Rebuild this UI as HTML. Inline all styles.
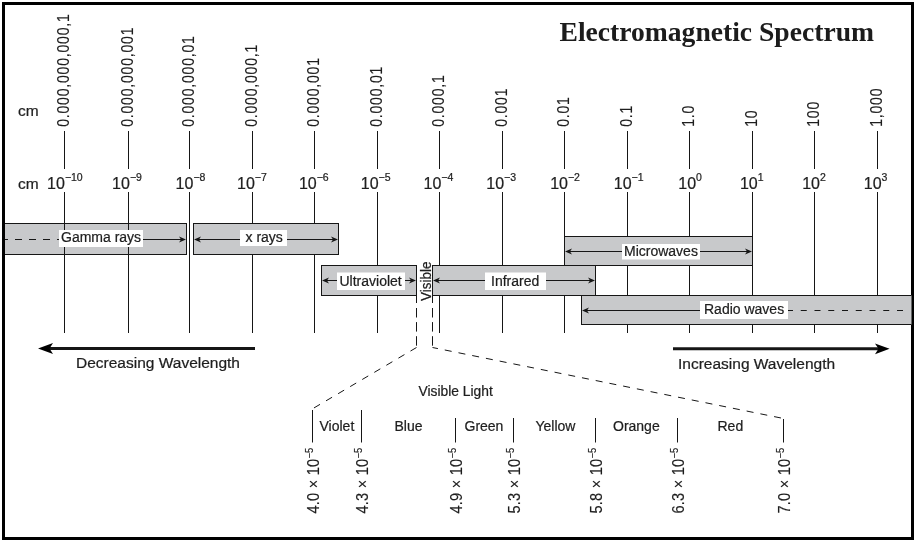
<!DOCTYPE html>
<html><head><meta charset="utf-8"><style>
html,body{margin:0;padding:0;background:#fff;}
svg{display:block;will-change:transform;}
text{font-family:"Liberation Sans", sans-serif;fill:#1e1e1e;stroke:#1e1e1e;stroke-width:0.22px;}
</style></head><body>
<svg width="916" height="542" viewBox="0 0 916 542">
<rect width="916" height="542" fill="#fff"/>
<rect x="3.5" y="3.5" width="909" height="535" fill="none" stroke="#000" stroke-width="3"/>
<text x="559.5" y="41" style="font-family:'Liberation Serif', serif;font-weight:bold;fill:#1c1c1c;stroke:none" font-size="27" textLength="314.5" lengthAdjust="spacingAndGlyphs">Electromagnetic Spectrum</text>
<text x="18" y="116" font-size="15.5" text-anchor="start">cm</text>
<text x="18" y="189" font-size="15.5" text-anchor="start">cm</text>
<text x="0" y="0" font-size="16.5" transform="translate(69.0 126.8) rotate(-90) scale(0.85 1)" letter-spacing="0.95" style="stroke-width:0.15px">0.000,000,000,1</text>
<text x="0" y="0" font-size="16.5" transform="translate(133.0 126.8) rotate(-90) scale(0.85 1)" letter-spacing="0.95" style="stroke-width:0.15px">0.000,000,001</text>
<text x="0" y="0" font-size="16.5" transform="translate(194.0 126.8) rotate(-90) scale(0.85 1)" letter-spacing="0.95" style="stroke-width:0.15px">0.000,000,01</text>
<text x="0" y="0" font-size="16.5" transform="translate(257.0 126.8) rotate(-90) scale(0.85 1)" letter-spacing="0.95" style="stroke-width:0.15px">0.000,000,1</text>
<text x="0" y="0" font-size="16.5" transform="translate(319.0 126.8) rotate(-90) scale(0.85 1)" letter-spacing="0.95" style="stroke-width:0.15px">0.000,001</text>
<text x="0" y="0" font-size="16.5" transform="translate(382.0 126.8) rotate(-90) scale(0.85 1)" letter-spacing="0.95" style="stroke-width:0.15px">0.000,01</text>
<text x="0" y="0" font-size="16.5" transform="translate(444.0 126.8) rotate(-90) scale(0.85 1)" letter-spacing="0.95" style="stroke-width:0.15px">0.000,1</text>
<text x="0" y="0" font-size="16.5" transform="translate(507.0 126.8) rotate(-90) scale(0.85 1)" letter-spacing="0.95" style="stroke-width:0.15px">0.001</text>
<text x="0" y="0" font-size="16.5" transform="translate(569.0 126.8) rotate(-90) scale(0.85 1)" letter-spacing="0.95" style="stroke-width:0.15px">0.01</text>
<text x="0" y="0" font-size="16.5" transform="translate(632.0 126.8) rotate(-90) scale(0.85 1)" letter-spacing="0.95" style="stroke-width:0.15px">0.1</text>
<text x="0" y="0" font-size="16.5" transform="translate(694.0 126.8) rotate(-90) scale(0.85 1)" letter-spacing="0.95" style="stroke-width:0.15px">1.0</text>
<text x="0" y="0" font-size="16.5" transform="translate(757.0 126.8) rotate(-90) scale(0.85 1)" letter-spacing="0.95" style="stroke-width:0.15px">10</text>
<text x="0" y="0" font-size="16.5" transform="translate(819.0 126.8) rotate(-90) scale(0.85 1)" letter-spacing="0.95" style="stroke-width:0.15px">100</text>
<text x="0" y="0" font-size="16.5" transform="translate(882.0 126.8) rotate(-90) scale(0.85 1)" letter-spacing="0.95" style="stroke-width:0.15px">1,000</text>
<line x1="64.5" y1="131" x2="64.5" y2="169" stroke="#161616" stroke-width="1"/>
<line x1="128.5" y1="131" x2="128.5" y2="169" stroke="#161616" stroke-width="1"/>
<line x1="189.5" y1="131" x2="189.5" y2="169" stroke="#161616" stroke-width="1"/>
<line x1="252.5" y1="131" x2="252.5" y2="169" stroke="#161616" stroke-width="1"/>
<line x1="314.5" y1="131" x2="314.5" y2="169" stroke="#161616" stroke-width="1"/>
<line x1="377.5" y1="131" x2="377.5" y2="169" stroke="#161616" stroke-width="1"/>
<line x1="439.5" y1="131" x2="439.5" y2="169" stroke="#161616" stroke-width="1"/>
<line x1="502.5" y1="131" x2="502.5" y2="169" stroke="#161616" stroke-width="1"/>
<line x1="564.5" y1="131" x2="564.5" y2="169" stroke="#161616" stroke-width="1"/>
<line x1="627.5" y1="131" x2="627.5" y2="169" stroke="#161616" stroke-width="1"/>
<line x1="689.5" y1="131" x2="689.5" y2="169" stroke="#161616" stroke-width="1"/>
<line x1="752.5" y1="131" x2="752.5" y2="169" stroke="#161616" stroke-width="1"/>
<line x1="814.5" y1="131" x2="814.5" y2="169" stroke="#161616" stroke-width="1"/>
<line x1="877.5" y1="131" x2="877.5" y2="169" stroke="#161616" stroke-width="1"/>
<text x="47.099999999999994" y="189" font-size="16">10<tspan font-size="10.5" dy="-8">−10</tspan></text>
<text x="112.1" y="189" font-size="16">10<tspan font-size="10.5" dy="-8">−9</tspan></text>
<text x="175.60000000000002" y="189" font-size="16">10<tspan font-size="10.5" dy="-8">−8</tspan></text>
<text x="237.0" y="189" font-size="16">10<tspan font-size="10.5" dy="-8">−7</tspan></text>
<text x="298.90000000000003" y="189" font-size="16">10<tspan font-size="10.5" dy="-8">−6</tspan></text>
<text x="360.8" y="189" font-size="16">10<tspan font-size="10.5" dy="-8">−5</tspan></text>
<text x="423.5" y="189" font-size="16">10<tspan font-size="10.5" dy="-8">−4</tspan></text>
<text x="486.3" y="189" font-size="16">10<tspan font-size="10.5" dy="-8">−3</tspan></text>
<text x="550.1999999999999" y="189" font-size="16">10<tspan font-size="10.5" dy="-8">−2</tspan></text>
<text x="613.8" y="189" font-size="16">10<tspan font-size="10.5" dy="-8">−1</tspan></text>
<text x="678.3" y="189" font-size="16">10<tspan font-size="10.5" dy="-8">0</tspan></text>
<text x="739.9" y="189" font-size="16">10<tspan font-size="10.5" dy="-8">1</tspan></text>
<text x="802.1999999999999" y="189" font-size="16">10<tspan font-size="10.5" dy="-8">2</tspan></text>
<text x="863.8" y="189" font-size="16">10<tspan font-size="10.5" dy="-8">3</tspan></text>
<rect x="5" y="223.5" width="181.5" height="31" fill="#c8c9cb"/>
<line x1="5" y1="223.5" x2="187" y2="223.5" stroke="#161616" stroke-width="1"/>
<line x1="5" y1="254.5" x2="187" y2="254.5" stroke="#161616" stroke-width="1"/>
<line x1="186.5" y1="223" x2="186.5" y2="255" stroke="#161616" stroke-width="1"/>
<line x1="64.5" y1="192" x2="64.5" y2="333" stroke="#161616" stroke-width="1"/>
<line x1="128.5" y1="192" x2="128.5" y2="333" stroke="#161616" stroke-width="1"/>
<line x1="189.5" y1="192" x2="189.5" y2="333" stroke="#161616" stroke-width="1"/>
<line x1="252.5" y1="192" x2="252.5" y2="333" stroke="#161616" stroke-width="1"/>
<line x1="314.5" y1="192" x2="314.5" y2="333" stroke="#161616" stroke-width="1"/>
<line x1="377.5" y1="192" x2="377.5" y2="333" stroke="#161616" stroke-width="1"/>
<line x1="439.5" y1="192" x2="439.5" y2="333" stroke="#161616" stroke-width="1"/>
<line x1="502.5" y1="192" x2="502.5" y2="333" stroke="#161616" stroke-width="1"/>
<line x1="564.5" y1="192" x2="564.5" y2="333" stroke="#161616" stroke-width="1"/>
<line x1="627.5" y1="192" x2="627.5" y2="333" stroke="#161616" stroke-width="1"/>
<line x1="689.5" y1="192" x2="689.5" y2="333" stroke="#161616" stroke-width="1"/>
<line x1="752.5" y1="192" x2="752.5" y2="333" stroke="#161616" stroke-width="1"/>
<line x1="814.5" y1="192" x2="814.5" y2="333" stroke="#161616" stroke-width="1"/>
<line x1="877.5" y1="192" x2="877.5" y2="333" stroke="#161616" stroke-width="1"/>
<rect x="193.5" y="223.5" width="145" height="31" fill="#c8c9cb"/>
<line x1="193" y1="223.5" x2="339" y2="223.5" stroke="#161616" stroke-width="1"/>
<line x1="193" y1="254.5" x2="339" y2="254.5" stroke="#161616" stroke-width="1"/>
<line x1="193.5" y1="223" x2="193.5" y2="255" stroke="#161616" stroke-width="1"/>
<line x1="338.5" y1="223" x2="338.5" y2="255" stroke="#161616" stroke-width="1"/>
<rect x="564.5" y="236.5" width="188" height="29" fill="#c8c9cb"/>
<line x1="564" y1="236.5" x2="753" y2="236.5" stroke="#161616" stroke-width="1"/>
<line x1="564" y1="265.5" x2="753" y2="265.5" stroke="#161616" stroke-width="1"/>
<line x1="564.5" y1="236" x2="564.5" y2="266" stroke="#161616" stroke-width="1"/>
<line x1="752.5" y1="236" x2="752.5" y2="266" stroke="#161616" stroke-width="1"/>
<rect x="321.5" y="265.5" width="95" height="30" fill="#c8c9cb"/>
<line x1="321" y1="265.5" x2="417" y2="265.5" stroke="#161616" stroke-width="1"/>
<line x1="321" y1="295.5" x2="417" y2="295.5" stroke="#161616" stroke-width="1"/>
<line x1="321.5" y1="265" x2="321.5" y2="296" stroke="#161616" stroke-width="1"/>
<line x1="416.5" y1="265" x2="416.5" y2="296" stroke="#161616" stroke-width="1"/>
<rect x="432.5" y="265.5" width="163" height="30" fill="#c8c9cb"/>
<line x1="432" y1="265.5" x2="596" y2="265.5" stroke="#161616" stroke-width="1"/>
<line x1="432" y1="295.5" x2="596" y2="295.5" stroke="#161616" stroke-width="1"/>
<line x1="432.5" y1="265" x2="432.5" y2="296" stroke="#161616" stroke-width="1"/>
<line x1="595.5" y1="265" x2="595.5" y2="296" stroke="#161616" stroke-width="1"/>
<rect x="581.5" y="295.5" width="330" height="29" fill="#c8c9cb"/>
<line x1="581" y1="295.5" x2="911" y2="295.5" stroke="#161616" stroke-width="1"/>
<line x1="581" y1="324.5" x2="911" y2="324.5" stroke="#161616" stroke-width="1"/>
<line x1="581.5" y1="295" x2="581.5" y2="325" stroke="#161616" stroke-width="1"/>
<line x1="416.5" y1="295" x2="416.5" y2="303" stroke="#161616" stroke-width="1"/>
<line x1="432.5" y1="295" x2="432.5" y2="303" stroke="#161616" stroke-width="1"/>
<line x1="416.5" y1="308" x2="416.5" y2="346" stroke="#161616" stroke-width="1" stroke-dasharray="9.5,4.6"/>
<line x1="432.5" y1="308" x2="432.5" y2="346" stroke="#161616" stroke-width="1" stroke-dasharray="9.5,4.6"/>
<text x="0" y="0" font-size="15" transform="translate(431 301) rotate(-90) scale(0.9 1)">Visible</text>
<line x1="5" y1="239.5" x2="59" y2="239.5" stroke="#161616" stroke-width="1" stroke-dasharray="7,7" stroke-dashoffset="4"/>
<line x1="143" y1="239.5" x2="185" y2="239.5" stroke="#161616" stroke-width="1"/>
<path d="M186,239.5 L179,236.5 L181,239.5 L179,242.5 Z" fill="#161616"/>
<line x1="195" y1="239.5" x2="337" y2="239.5" stroke="#161616" stroke-width="1"/>
<path d="M194,239.5 L201,236.5 L199,239.5 L201,242.5 Z" fill="#161616"/>
<path d="M338,239.5 L331,236.5 L333,239.5 L331,242.5 Z" fill="#161616"/>
<line x1="566" y1="251.5" x2="751" y2="251.5" stroke="#161616" stroke-width="1"/>
<path d="M565,251.5 L572,248.5 L570,251.5 L572,254.5 Z" fill="#161616"/>
<path d="M752,251.5 L745,248.5 L747,251.5 L745,254.5 Z" fill="#161616"/>
<line x1="323" y1="280.5" x2="415" y2="280.5" stroke="#161616" stroke-width="1"/>
<path d="M322,280.5 L329,277.5 L327,280.5 L329,283.5 Z" fill="#161616"/>
<path d="M416,280.5 L409,277.5 L411,280.5 L409,283.5 Z" fill="#161616"/>
<line x1="434" y1="280.5" x2="594" y2="280.5" stroke="#161616" stroke-width="1"/>
<path d="M433,280.5 L440,277.5 L438,280.5 L440,283.5 Z" fill="#161616"/>
<path d="M595,280.5 L588,277.5 L590,280.5 L588,283.5 Z" fill="#161616"/>
<line x1="583" y1="310.5" x2="700" y2="310.5" stroke="#161616" stroke-width="1"/>
<path d="M582,310.5 L589,307.5 L587,310.5 L589,313.5 Z" fill="#161616"/>
<line x1="787" y1="310.5" x2="906" y2="310.5" stroke="#161616" stroke-width="1" stroke-dasharray="6,7.75"/>
<rect x="59" y="230" width="84" height="17" fill="#fff"/>
<text x="61" y="241.5" font-size="14" text-anchor="start">Gamma rays</text>
<rect x="240" y="230" width="47" height="16" fill="#fff"/>
<text x="245.5" y="241.5" font-size="14" text-anchor="start">x rays</text>
<rect x="622" y="244" width="78" height="15.5" fill="#fff"/>
<text x="624" y="255.7" font-size="14" text-anchor="start">Microwaves</text>
<rect x="337" y="272.5" width="68" height="17.5" fill="#fff"/>
<text x="339.5" y="286" font-size="14" text-anchor="start">Ultraviolet</text>
<rect x="485" y="272.5" width="61" height="17.5" fill="#fff"/>
<text x="491" y="285.6" font-size="14" text-anchor="start">Infrared</text>
<rect x="700" y="301" width="88" height="18" fill="#fff"/>
<text x="704" y="314" font-size="14" text-anchor="start">Radio waves</text>
<line x1="47" y1="348.5" x2="255" y2="348.5" stroke="#161616" stroke-width="3"/>
<path d="M38,348.5 L53,343 L49.5,348.5 L53,354 Z" fill="#000"/>
<line x1="673" y1="348.8" x2="880" y2="348.8" stroke="#161616" stroke-width="3"/>
<path d="M889.6,348.8 L875,343.4 L878.5,348.8 L875,354.3 Z" fill="#000"/>
<text x="76" y="368" font-size="15.5" text-anchor="start">Decreasing Wavelength</text>
<text x="678" y="369.3" font-size="15.5" text-anchor="start">Increasing Wavelength</text>
<line x1="416.5" y1="347.5" x2="313" y2="408.5" stroke="#161616" stroke-width="1" stroke-dasharray="7,7"/>
<line x1="432.5" y1="347.5" x2="783.5" y2="418.5" stroke="#161616" stroke-width="1" stroke-dasharray="7,7" stroke-dashoffset="1.5"/>
<text x="418.6" y="396" font-size="13.8" text-anchor="start">Visible Light</text>
<line x1="312.5" y1="410" x2="312.5" y2="442.5" stroke="#161616" stroke-width="1"/>
<line x1="361.5" y1="410" x2="361.5" y2="442.5" stroke="#161616" stroke-width="1"/>
<line x1="455.5" y1="418" x2="455.5" y2="442.5" stroke="#161616" stroke-width="1"/>
<line x1="513.5" y1="418" x2="513.5" y2="442.5" stroke="#161616" stroke-width="1"/>
<line x1="595.5" y1="418" x2="595.5" y2="442.5" stroke="#161616" stroke-width="1"/>
<line x1="677.5" y1="418" x2="677.5" y2="442.5" stroke="#161616" stroke-width="1"/>
<line x1="783.5" y1="419" x2="783.5" y2="442.5" stroke="#161616" stroke-width="1"/>
<text x="319.5" y="431" font-size="14" text-anchor="start">Violet</text>
<text x="394.5" y="431" font-size="14" text-anchor="start">Blue</text>
<text x="464.5" y="431" font-size="14" text-anchor="start">Green</text>
<text x="535.5" y="431" font-size="14" text-anchor="start">Yellow</text>
<text x="613" y="431" font-size="14" text-anchor="start">Orange</text>
<text x="717.5" y="431" font-size="14" text-anchor="start">Red</text>
<text x="0" y="0" font-size="16.2" transform="translate(318.7 513.5) rotate(-90) scale(0.9 1)" letter-spacing="0.25" style="stroke-width:0.15px">4.0 × 10<tspan font-size="10.5" dy="-6">−5</tspan></text>
<text x="0" y="0" font-size="16.2" transform="translate(367.7 513.5) rotate(-90) scale(0.9 1)" letter-spacing="0.25" style="stroke-width:0.15px">4.3 × 10<tspan font-size="10.5" dy="-6">−5</tspan></text>
<text x="0" y="0" font-size="16.2" transform="translate(461.7 513.5) rotate(-90) scale(0.9 1)" letter-spacing="0.25" style="stroke-width:0.15px">4.9 × 10<tspan font-size="10.5" dy="-6">−5</tspan></text>
<text x="0" y="0" font-size="16.2" transform="translate(519.7 513.5) rotate(-90) scale(0.9 1)" letter-spacing="0.25" style="stroke-width:0.15px">5.3 × 10<tspan font-size="10.5" dy="-6">−5</tspan></text>
<text x="0" y="0" font-size="16.2" transform="translate(601.7 513.5) rotate(-90) scale(0.9 1)" letter-spacing="0.25" style="stroke-width:0.15px">5.8 × 10<tspan font-size="10.5" dy="-6">−5</tspan></text>
<text x="0" y="0" font-size="16.2" transform="translate(683.7 513.5) rotate(-90) scale(0.9 1)" letter-spacing="0.25" style="stroke-width:0.15px">6.3 × 10<tspan font-size="10.5" dy="-6">−5</tspan></text>
<text x="0" y="0" font-size="16.2" transform="translate(789.7 513.5) rotate(-90) scale(0.9 1)" letter-spacing="0.25" style="stroke-width:0.15px">7.0 × 10<tspan font-size="10.5" dy="-6">−5</tspan></text>
</svg>
</body></html>
